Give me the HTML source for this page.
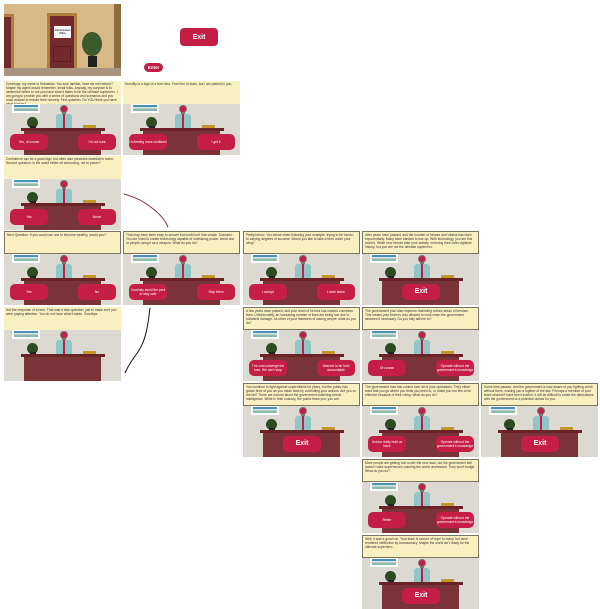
<!DOCTYPE html>
<html><head><meta charset="utf-8"><style>
*{margin:0;padding:0;box-sizing:border-box}
body{width:600px;height:608px;background:#fff;position:relative;overflow:hidden;font-family:"Liberation Sans",sans-serif}
.p{position:absolute;width:117px;height:74px}
.t{position:absolute;left:0;top:0;width:117px;height:23px;background:#f9f0c1;border:1px solid #7a7560;font-size:3.3px;line-height:4.1px;color:#333;padding:1px 2px;overflow:hidden}
.s{position:absolute;left:0;top:23px;width:117px;height:51px;background:#dcd9d3;overflow:hidden}
.s i,.s b{position:absolute;display:block}
.w{left:8px;top:0;width:28px;height:9px;background:#fff;}
.w:after{content:"";position:absolute;left:2px;top:1px;width:24px;height:6px;background:linear-gradient(#4d8fb6 0 30%,#d9e8e6 30% 55%,#8fb9a9 55%)}
.lf{left:23px;top:13px;width:11px;height:11px;border-radius:50%;background:#2e4a22}
.pt{left:26px;top:22px;width:6px;height:5px;background:#222}
.nk{left:58px;top:6px;width:4px;height:6px;background:#777}
.hd{left:56px;top:1px;width:8px;height:8px;border-radius:50%;background:#c41e45;border:1px solid #777}
.sh{left:52px;top:10px;width:16px;height:15px;background:#8fc6c6;border-radius:3px 3px 0 0}
.tie{left:59px;top:10px;width:2px;height:14px;background:#c41e45}
.np{left:79px;top:21px;width:13px;height:3px;background:#c2982c}
.dl{left:17px;top:24px;width:84px;height:3px;background:#6a2428}
.dk{left:20px;top:27px;width:77px;height:24px;background:#7a3437}
.b1,.b2,.ex{top:30px;height:16px;background:#c41e45;border-radius:5px;color:#fff;font-size:3.3px;font-weight:normal;display:flex!important;align-items:center;justify-content:center;text-align:center;line-height:4px}
.b1{left:6px;width:38px}.b2{left:74px;width:38px}
.ex{left:40px;width:38px;font-size:7px;font-weight:bold}
</style></head><body>

<!-- top room -->
<div style="position:absolute;left:4px;top:4px;width:117px;height:72px;background:#d8b988">
 <div style="position:absolute;left:0;top:64px;width:117px;height:8px;background:#a99480"></div>
 <div style="position:absolute;left:110px;top:0;width:7px;height:64px;background:#8a6c3e"></div>
 <div style="position:absolute;left:0;top:10px;width:10px;height:54px;background:#b07e3e"></div>
 <div style="position:absolute;left:0;top:13px;width:7px;height:51px;background:#722a2c"></div>
 <div style="position:absolute;left:43px;top:9px;width:30px;height:55px;background:#b07e3e"></div>
 <div style="position:absolute;left:46px;top:12px;width:24px;height:52px;background:#722a2c"></div>
 <div style="position:absolute;left:50px;top:22px;width:17px;height:12px;background:#f4f4f4;font-size:2.5px;text-align:center;padding-top:3px">Administration Office</div>
 <div style="position:absolute;left:49px;top:42px;width:18px;height:16px;border:1px solid #5a1e20"></div>
 <div style="position:absolute;left:78px;top:28px;width:20px;height:24px;border-radius:50%;background:#3c5a2a"></div>
 <div style="position:absolute;left:84px;top:52px;width:9px;height:11px;background:#222"></div>
</div>
<div style="position:absolute;left:180px;top:28px;width:38px;height:18px;background:#c41e45;border-radius:4px;color:#fff;font-weight:bold;font-size:7px;display:flex;align-items:center;justify-content:center">Exit</div>
<div style="position:absolute;left:144px;top:63px;width:19px;height:9px;background:#c41e45;border-radius:5px;color:#fff;font-weight:bold;font-size:4.5px;display:flex;align-items:center;justify-content:center">Enter</div>

<!-- panels -->
<div class="p" style="left:4px;top:81px"><div class="t" style="border:none">Greetings, my name is Sebastián. You look familiar, have we met before? Maybe my agent would remember, small folks. Anyway, my purpose is to determine better or not you have what it takes to be the ultimate superhero. I am going to provide you with a series of questions and scenarios and you must answer to ensure their honesty. First question: Do YOU think you have what it takes?</div><div class="s"><i class="w"></i><i class="lf"></i><i class="pt"></i><i class="nk"></i><i class="sh"></i><i class="tie"></i><i class="hd"></i><i class="np"></i><i class="dl"></i><i class="dk"></i><b class="b1">Yes, of course</b><b class="b2">I'm not sure</b></div></div>

<div class="p" style="left:123px;top:81px"><div class="t" style="border:none">Humility is a sign of a true hero. Feel free to learn, but I am patient in you.</div><div class="s"><i class="w"></i><i class="lf"></i><i class="pt"></i><i class="nk"></i><i class="sh"></i><i class="tie"></i><i class="hd"></i><i class="np"></i><i class="dl"></i><i class="dk"></i><b class="b1">I'm feeling more confident</b><b class="b2">I get it</b></div></div>

<div class="p" style="left:4px;top:156px"><div class="t" style="border:none">Confidence can be a good sign, but often also precedes downfall in some. Second question: is the world better off advancing, not to power?</div><div class="s"><i class="w"></i><i class="lf"></i><i class="pt"></i><i class="nk"></i><i class="sh"></i><i class="tie"></i><i class="hd"></i><i class="np"></i><i class="dl"></i><i class="dk"></i><b class="b1">Yes</b><b class="b2">Never</b></div></div>

<div class="p" style="left:4px;top:231px"><div class="t">Next Question: If you could use one to become wealthy, would you?</div><div class="s"><i class="w"></i><i class="lf"></i><i class="pt"></i><i class="nk"></i><i class="sh"></i><i class="tie"></i><i class="hd"></i><i class="np"></i><i class="dl"></i><i class="dk"></i><b class="b1">Yes</b><b class="b2">No</b></div></div>

<div class="p" style="left:123px;top:231px"><div class="t">That may have been easy to answer but world isn't that simple. Scenario: You are hired to create technology capable of overtaking power, world one or people using it as a weapon. What do you do?</div><div class="s"><i class="w"></i><i class="lf"></i><i class="pt"></i><i class="nk"></i><i class="sh"></i><i class="tie"></i><i class="hd"></i><i class="np"></i><i class="dl"></i><i class="dk"></i><b class="b1">Carefully avoid the peril to stay safe</b><b class="b2">Stop them</b></div></div>

<div class="p" style="left:243px;top:231px"><div class="t">Pretty heroic. You sense when following your example, trying to be heroic, to varying degrees of success. Would you like to take a hero under your wing?</div><div class="s"><i class="w"></i><i class="lf"></i><i class="pt"></i><i class="nk"></i><i class="sh"></i><i class="tie"></i><i class="hd"></i><i class="np"></i><i class="dl"></i><i class="dk"></i><b class="b1">I accept</b><b class="b2">I work alone</b></div></div>

<div class="p" style="left:362px;top:231px"><div class="t">After years have passed, and the number of heroes and villains has risen exponentially. Many have banded to rise up. With technology, you are this world's. While new heroes take your activity, mirroring their older vigilante history, but you are not the ultimate superhero.</div><div class="s"><i class="w"></i><i class="lf"></i><i class="pt"></i><i class="nk"></i><i class="sh"></i><i class="tie"></i><i class="hd"></i><i class="np"></i><i class="dl"></i><i class="dk"></i><b class="ex">Exit</b></div></div>

<div class="p" style="left:4px;top:307px"><div class="t" style="border:none">Not the response of a hero. That was a trick question, just to make sure you were paying attention. You do not have what it takes. Goodbye.</div><div class="s"><i class="w"></i><i class="lf"></i><i class="pt"></i><i class="nk"></i><i class="sh"></i><i class="tie"></i><i class="hd"></i><i class="np"></i><i class="dl"></i><i class="dk"></i></div></div>

<div class="p" style="left:243px;top:307px"><div class="t">A few years have passed, and your team of heroes has caused countless lives. Unfortunately, an increasing number of lives are being lost due to collateral damage. As other of your members of saving people, what do you do?</div><div class="s"><i class="w"></i><i class="lf"></i><i class="pt"></i><i class="nk"></i><i class="sh"></i><i class="tie"></i><i class="hd"></i><i class="np"></i><i class="dl"></i><i class="dk"></i><b class="b1">The cost outweigh the loss. We can't stop</b><b class="b2">Warned to be held accountable</b></div></div>

<div class="p" style="left:362px;top:307px"><div class="t">The government your also implores restricting certain areas of heroism. This means your team is only allowed to work when the government declares it necessary. Do you fully adhere to?</div><div class="s"><i class="w"></i><i class="lf"></i><i class="pt"></i><i class="nk"></i><i class="sh"></i><i class="tie"></i><i class="hd"></i><i class="np"></i><i class="dl"></i><i class="dk"></i><b class="b1">Of course</b><b class="b2">Operate without the government's knowledge</b></div></div>

<div class="p" style="left:243px;top:383px"><div class="t">You continue to fight against supervillains for years, but the public has grown tired of you as you made laws by controlling your actions. Are you on the list? There are rumors about the government collecting heroic intelligence. While in their custody, the public fears you, you are.</div><div class="s"><i class="w"></i><i class="lf"></i><i class="pt"></i><i class="nk"></i><i class="sh"></i><i class="tie"></i><i class="hd"></i><i class="np"></i><i class="dl"></i><i class="dk"></i><b class="ex">Exit</b></div></div>

<div class="p" style="left:362px;top:383px"><div class="t">The government now has control over all of your operations. They either want that you go where you think you need to, or make you too few to be effective because of their ruling. What do you do?</div><div class="s"><i class="w"></i><i class="lf"></i><i class="pt"></i><i class="nk"></i><i class="sh"></i><i class="tie"></i><i class="hd"></i><i class="np"></i><i class="dl"></i><i class="dk"></i><b class="b1">Unions really hold us back</b><b class="b2">Operate without the government's knowledge</b></div></div>

<div class="p" style="left:481px;top:383px"><div class="t">Some time passes, and the government is now aware of you fighting crime without them, making you a fugitive of the law. Perhaps a member of your team shouldn't have been trusted. It will be difficult to erase the altercations with the government or a potential outlaw for you.</div><div class="s"><i class="w"></i><i class="lf"></i><i class="pt"></i><i class="nk"></i><i class="sh"></i><i class="tie"></i><i class="hd"></i><i class="np"></i><i class="dl"></i><i class="dk"></i><b class="ex">Exit</b></div></div>

<div class="p" style="left:362px;top:459px"><div class="t">More people are getting hurt under the new laws, but the government still doesn't want superheroes roaming the world unchecked. They won't budge. What do you do?</div><div class="s"><i class="w"></i><i class="lf"></i><i class="pt"></i><i class="nk"></i><i class="sh"></i><i class="tie"></i><i class="hd"></i><i class="np"></i><i class="dl"></i><i class="dk"></i><b class="b1">Retire</b><b class="b2">Operate without the government's knowledge</b></div></div>

<div class="p" style="left:362px;top:535px"><div class="t">Well, it was a good run. Your team is secure of hope to many, but were rendered ineffective by bureaucracy. Maybe the world isn't ready for the ultimate superhero.</div><div class="s"><i class="w"></i><i class="lf"></i><i class="pt"></i><i class="nk"></i><i class="sh"></i><i class="tie"></i><i class="hd"></i><i class="np"></i><i class="dl"></i><i class="dk"></i><b class="ex">Exit</b></div></div>

<svg style="position:absolute;left:0;top:0" width="600" height="608">
 <path d="M124 194 C135 197 145 202 152 208 C160 214 165 220 168 227" fill="none" stroke="#7a3437" stroke-width="1"/>
 <path d="M150 308 C148 325 146 340 138 352 C132 360 128 366 125 373" fill="none" stroke="#111" stroke-width="1"/>
</svg>
</body></html>
